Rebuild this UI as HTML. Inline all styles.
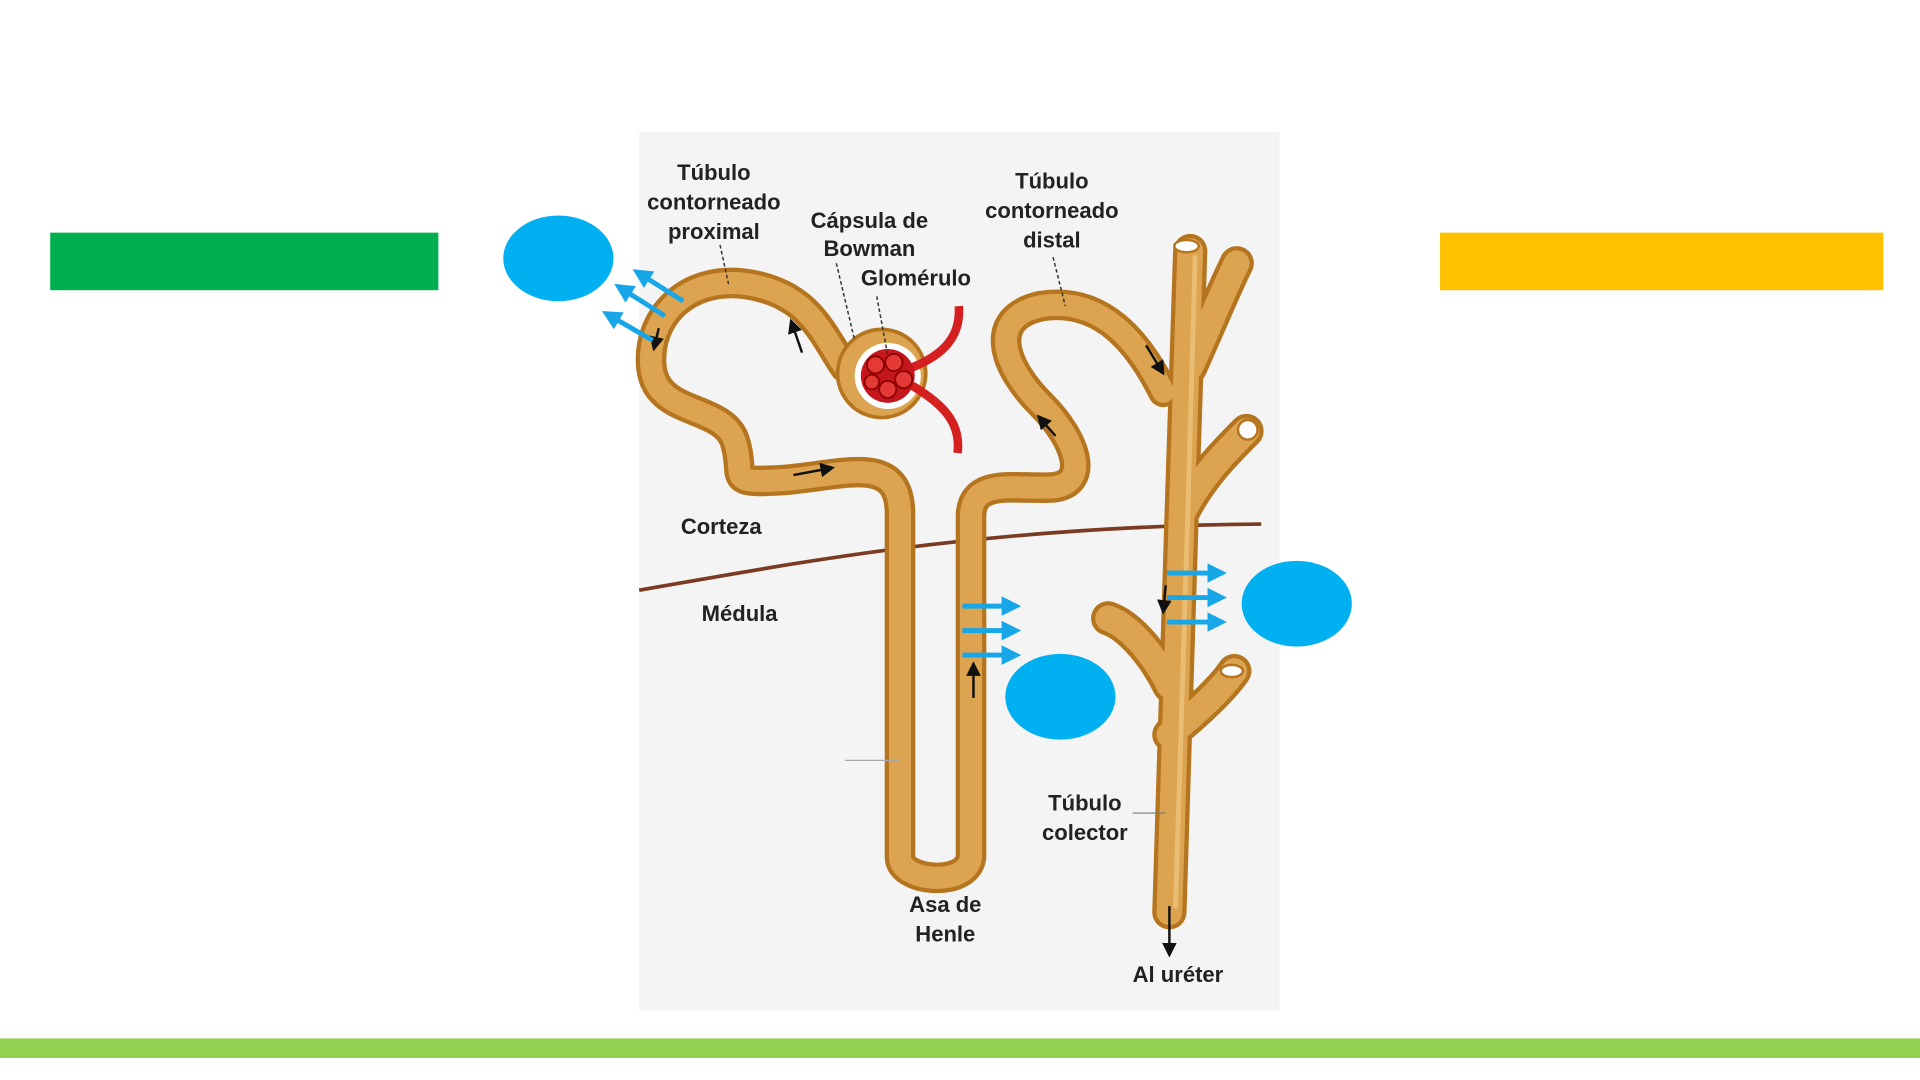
<!DOCTYPE html>
<html><head><style>
html,body{margin:0;padding:0;background:#fff;width:1920px;height:1080px;overflow:hidden}
svg{display:block}
text{font-family:"Liberation Sans",sans-serif;font-weight:bold;font-size:18px;fill:#222;text-anchor:middle}
</style></head><body>
<svg width="1920" height="1080" viewBox="0 0 1568 882" xmlns="http://www.w3.org/2000/svg">
<defs>
<marker id="ar" markerWidth="6" markerHeight="6" refX="5" refY="3" orient="auto"><path d="M0,0L6,3L0,6z" fill="#111"/></marker>
<marker id="ab" markerWidth="4" markerHeight="4" refX="3" refY="2" orient="auto"><path d="M0,0L4,2L0,4z" fill="#17a7e8"/></marker>
</defs>
<rect x="0" y="0" width="1568" height="882" fill="#fff"/>
<rect x="522" y="108" width="523" height="717" fill="#f4f4f4"/>
<rect x="41" y="190" width="317" height="47" fill="#00b050"/>
<rect x="1176" y="190" width="362" height="47" fill="#ffc000"/>
<rect x="0" y="848" width="1568" height="16" fill="#92d050"/>
<path d="M522,482 C650,460 800,430 1030,428" stroke="#7a3b22" stroke-width="3" fill="none"/>
<g fill="none" stroke-linecap="round" stroke-linejoin="round">
<g stroke="#b5741e" stroke-width="25">
<path d="M690,300 C670,270 660,240 610,232 C560,225 528,260 532,300 C536,340 590,330 600,360 C610,390 590,395 640,392 C690,388 735,370 735,420 L735,700 C735,720 790,725 793,700 L793,420 C795,390 830,400 860,398 C890,395 880,360 850,330 C820,300 805,260 850,250 C900,242 930,280 950,320"/>
</g>
<g stroke="#b5741e" stroke-width="28">
<path d="M955,745 L965,420 L972,205 M965,420 C980,390 1000,370 1018,352 M972,300 C990,260 1000,235 1010,215 M955,560 C940,530 920,510 905,505 M955,600 C980,580 1000,560 1008,548"/>
</g>
<g stroke="#dca450" stroke-width="18">
<path d="M690,300 C670,270 660,240 610,232 C560,225 528,260 532,300 C536,340 590,330 600,360 C610,390 590,395 640,392 C690,388 735,370 735,420 L735,700 C735,720 790,725 793,700 L793,420 C795,390 830,400 860,398 C890,395 880,360 850,330 C820,300 805,260 850,250 C900,242 930,280 950,320"/>
</g>
<g stroke="#dca450" stroke-width="21">
<path d="M955,745 L965,420 L972,205 M965,420 C980,390 1000,370 1018,352 M972,300 C990,260 1000,235 1010,215 M955,560 C940,530 920,510 905,505 M955,600 C980,580 1000,560 1008,548"/>
</g>
<g stroke="#f0c880" stroke-width="4" opacity=".7">
<path d="M960,740 L970,420 L976,210"/>
</g>
</g>
<ellipse cx="969" cy="201" rx="10" ry="5" fill="#fff" stroke="#b5741e" stroke-width="2"/>
<ellipse cx="1019" cy="351" rx="8" ry="8" fill="#fff" stroke="#b5741e" stroke-width="2"/>
<ellipse cx="1006" cy="548" rx="9" ry="5" fill="#fff" stroke="#b5741e" stroke-width="2"/>
<circle cx="720" cy="305" r="36" fill="#dca450" stroke="#b5741e" stroke-width="3"/>
<circle cx="725" cy="307" r="27" fill="#fff"/>
<path d="M745,300 C770,290 785,275 783,250 M745,315 C770,330 785,345 782,370" stroke="#d52020" stroke-width="7" fill="none"/>
<circle cx="725" cy="307" r="22" fill="#c4161c"/>
<g fill="#e53935" stroke="#8b0000" stroke-width="1.5">
<circle cx="715" cy="298" r="7"/><circle cx="730" cy="296" r="7"/><circle cx="738" cy="310" r="7"/><circle cx="725" cy="318" r="7"/><circle cx="712" cy="312" r="6"/>
</g>
<g stroke="#111" stroke-width="2" marker-end="url(#ar)">
<line x1="655" y1="288" x2="646" y2="262"/>
<line x1="648" y1="388" x2="680" y2="382"/>
<line x1="795" y1="570" x2="795" y2="542"/>
<line x1="862" y1="356" x2="848" y2="340"/>
<line x1="936" y1="282" x2="950" y2="305"/>
<line x1="952" y1="478" x2="950" y2="500"/>
<line x1="955" y1="740" x2="955" y2="780"/>
<line x1="538" y1="268" x2="534" y2="285"/>
</g>
<g stroke="#333" stroke-width="1.2" stroke-dasharray="3,2" fill="none">
<line x1="588" y1="200" x2="595" y2="232"/>
<line x1="683" y1="215" x2="698" y2="278"/>
<line x1="716" y1="242" x2="725" y2="290"/>
<line x1="860" y1="210" x2="870" y2="250"/>
</g>
<line x1="690" y1="621" x2="735" y2="621" stroke="#aaa" stroke-width="1"/>
<line x1="925" y1="664" x2="952" y2="664" stroke="#777" stroke-width="1"/>
<g stroke="#17a7e8" stroke-width="4" marker-end="url(#ab)">
<line x1="558" y1="246" x2="520" y2="222"/>
<line x1="543" y1="258" x2="505" y2="234"/>
<line x1="533" y1="278" x2="495" y2="256"/>
<line x1="786" y1="495" x2="830" y2="495"/>
<line x1="786" y1="515" x2="830" y2="515"/>
<line x1="786" y1="535" x2="830" y2="535"/>
<line x1="953" y1="468" x2="998" y2="468"/>
<line x1="953" y1="488" x2="998" y2="488"/>
<line x1="953" y1="508" x2="998" y2="508"/>
</g>
<ellipse cx="456" cy="211" rx="45" ry="35" fill="#00b0f0"/>
<ellipse cx="866" cy="569" rx="45" ry="35" fill="#00b0f0"/>
<ellipse cx="1059" cy="493" rx="45" ry="35" fill="#00b0f0"/>
<text x="583" y="147">Túbulo</text>
<text x="583" y="171">contorneado</text>
<text x="583" y="195">proximal</text>
<text x="710" y="186">Cápsula de</text>
<text x="710" y="209">Bowman</text>
<text x="748" y="233">Glomérulo</text>
<text x="859" y="154">Túbulo</text>
<text x="859" y="178">contorneado</text>
<text x="859" y="202">distal</text>
<text x="589" y="436">Corteza</text>
<text x="604" y="507">Médula</text>
<text x="886" y="662">Túbulo</text>
<text x="886" y="686">colector</text>
<text x="772" y="745">Asa de</text>
<text x="772" y="769">Henle</text>
<text x="962" y="802">Al uréter</text>
</svg>
</body></html>
